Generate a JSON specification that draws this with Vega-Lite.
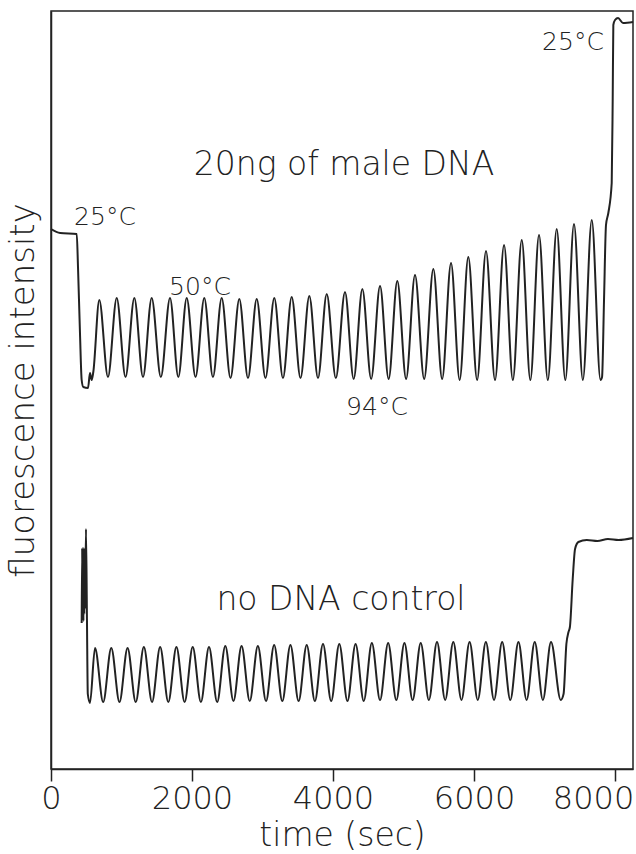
{
  "$schema": "https://vega.github.io/schema/vega-lite/v6.json",
  "width": 582,
  "height": 758,
  "autosize": {"type": "none"},
  "padding": {"left": 51, "top": 11, "right": 3, "bottom": 85},
  "background": "white",
  "config": {
    "font": "DejaVu Sans",
    "view": {"stroke": "#222", "strokeWidth": 1.5},
    "axis": {"grid": false, "domainColor": "#222", "domainWidth": 1.5, "tickColor": "#222", "labelColor": "#222", "titleColor": "#222", "titleFontWeight": 200, "labelFontWeight": 200}
  },
  "datasets": {
    "traces": [
      {"series": "male", "t": 0, "v": 540},
      {"series": "male", "t": 130, "v": 536},
      {"series": "male", "t": 365, "v": 535},
      {"series": "male", "t": 383, "v": 502},
      {"series": "male", "t": 411, "v": 436},
      {"series": "male", "t": 435, "v": 389},
      {"series": "male", "t": 458, "v": 382},
      {"series": "male", "t": 525, "v": 381},
      {"series": "male", "t": 553, "v": 396},
      {"series": "male", "t": 577, "v": 389},
      {"series": "male", "t": 600, "v": 397},
      {"series": "male", "t": 685, "v": 469},
      {"series": "male", "t": 808, "v": 392},
      {"series": "male", "t": 932, "v": 471},
      {"series": "male", "t": 1057, "v": 392},
      {"series": "male", "t": 1182, "v": 471},
      {"series": "male", "t": 1305, "v": 392},
      {"series": "male", "t": 1428, "v": 471},
      {"series": "male", "t": 1558, "v": 392},
      {"series": "male", "t": 1688, "v": 471},
      {"series": "male", "t": 1806, "v": 392},
      {"series": "male", "t": 1925, "v": 471},
      {"series": "male", "t": 2050, "v": 392},
      {"series": "male", "t": 2174, "v": 471},
      {"series": "male", "t": 2297, "v": 392},
      {"series": "male", "t": 2421, "v": 471},
      {"series": "male", "t": 2546, "v": 391},
      {"series": "male", "t": 2671, "v": 470},
      {"series": "male", "t": 2794, "v": 391},
      {"series": "male", "t": 2918, "v": 470},
      {"series": "male", "t": 3042, "v": 391},
      {"series": "male", "t": 3167, "v": 471},
      {"series": "male", "t": 3290, "v": 391},
      {"series": "male", "t": 3414, "v": 472},
      {"series": "male", "t": 3539, "v": 391},
      {"series": "male", "t": 3664, "v": 473},
      {"series": "male", "t": 3787, "v": 391},
      {"series": "male", "t": 3911, "v": 475},
      {"series": "male", "t": 4040, "v": 391},
      {"series": "male", "t": 4170, "v": 477},
      {"series": "male", "t": 4293, "v": 390},
      {"series": "male", "t": 4416, "v": 480},
      {"series": "male", "t": 4541, "v": 390},
      {"series": "male", "t": 4667, "v": 483},
      {"series": "male", "t": 4789, "v": 390},
      {"series": "male", "t": 4912, "v": 488},
      {"series": "male", "t": 5037, "v": 390},
      {"series": "male", "t": 5163, "v": 494},
      {"series": "male", "t": 5293, "v": 390},
      {"series": "male", "t": 5423, "v": 500},
      {"series": "male", "t": 5548, "v": 390},
      {"series": "male", "t": 5674, "v": 506},
      {"series": "male", "t": 5796, "v": 389},
      {"series": "male", "t": 5919, "v": 512},
      {"series": "male", "t": 6044, "v": 389},
      {"series": "male", "t": 6170, "v": 518},
      {"series": "male", "t": 6298, "v": 389},
      {"series": "male", "t": 6426, "v": 524},
      {"series": "male", "t": 6551, "v": 389},
      {"series": "male", "t": 6677, "v": 529},
      {"series": "male", "t": 6799, "v": 389},
      {"series": "male", "t": 6922, "v": 534},
      {"series": "male", "t": 7047, "v": 389},
      {"series": "male", "t": 7173, "v": 540},
      {"series": "male", "t": 7295, "v": 389},
      {"series": "male", "t": 7418, "v": 545},
      {"series": "male", "t": 7544, "v": 389},
      {"series": "male", "t": 7670, "v": 549},
      {"series": "male", "t": 7794, "v": 389},
      {"series": "male", "t": 7816, "v": 392},
      {"series": "male", "t": 7844, "v": 469},
      {"series": "male", "t": 7872, "v": 544},
      {"series": "male", "t": 7905, "v": 556},
      {"series": "male", "t": 7953, "v": 586},
      {"series": "male", "t": 7967, "v": 669},
      {"series": "male", "t": 7976, "v": 744},
      {"series": "male", "t": 8000, "v": 749},
      {"series": "male", "t": 8043, "v": 751},
      {"series": "male", "t": 8113, "v": 746},
      {"series": "male", "t": 8255, "v": 747},

      {"series": "control", "t": 435, "v": 146},
      {"series": "control", "t": 442, "v": 221},
      {"series": "control", "t": 448, "v": 150},
      {"series": "control", "t": 454, "v": 220},
      {"series": "control", "t": 460, "v": 148},
      {"series": "control", "t": 466, "v": 221},
      {"series": "control", "t": 472, "v": 155},
      {"series": "control", "t": 478, "v": 219},
      {"series": "control", "t": 484, "v": 160},
      {"series": "control", "t": 496, "v": 240},
      {"series": "control", "t": 510, "v": 150},
      {"series": "control", "t": 522, "v": 75},
      {"series": "control", "t": 553, "v": 66},
      {"series": "control", "t": 624, "v": 121},
      {"series": "control", "t": 740, "v": 67},
      {"series": "control", "t": 855, "v": 121},
      {"series": "control", "t": 971, "v": 67},
      {"series": "control", "t": 1086, "v": 121},
      {"series": "control", "t": 1202, "v": 67},
      {"series": "control", "t": 1317, "v": 122},
      {"series": "control", "t": 1433, "v": 67},
      {"series": "control", "t": 1548, "v": 122},
      {"series": "control", "t": 1664, "v": 67},
      {"series": "control", "t": 1779, "v": 122},
      {"series": "control", "t": 1895, "v": 67},
      {"series": "control", "t": 2010, "v": 122},
      {"series": "control", "t": 2126, "v": 67},
      {"series": "control", "t": 2241, "v": 122},
      {"series": "control", "t": 2357, "v": 67},
      {"series": "control", "t": 2472, "v": 123},
      {"series": "control", "t": 2588, "v": 68},
      {"series": "control", "t": 2703, "v": 123},
      {"series": "control", "t": 2819, "v": 68},
      {"series": "control", "t": 2934, "v": 123},
      {"series": "control", "t": 3050, "v": 68},
      {"series": "control", "t": 3165, "v": 124},
      {"series": "control", "t": 3281, "v": 68},
      {"series": "control", "t": 3396, "v": 124},
      {"series": "control", "t": 3512, "v": 68},
      {"series": "control", "t": 3627, "v": 124},
      {"series": "control", "t": 3743, "v": 68},
      {"series": "control", "t": 3858, "v": 125},
      {"series": "control", "t": 3974, "v": 68},
      {"series": "control", "t": 4089, "v": 125},
      {"series": "control", "t": 4205, "v": 68},
      {"series": "control", "t": 4320, "v": 125},
      {"series": "control", "t": 4436, "v": 68},
      {"series": "control", "t": 4551, "v": 126},
      {"series": "control", "t": 4667, "v": 69},
      {"series": "control", "t": 4782, "v": 126},
      {"series": "control", "t": 4898, "v": 69},
      {"series": "control", "t": 5013, "v": 126},
      {"series": "control", "t": 5129, "v": 69},
      {"series": "control", "t": 5244, "v": 126},
      {"series": "control", "t": 5360, "v": 69},
      {"series": "control", "t": 5475, "v": 127},
      {"series": "control", "t": 5591, "v": 69},
      {"series": "control", "t": 5706, "v": 127},
      {"series": "control", "t": 5822, "v": 69},
      {"series": "control", "t": 5937, "v": 127},
      {"series": "control", "t": 6053, "v": 69},
      {"series": "control", "t": 6168, "v": 127},
      {"series": "control", "t": 6284, "v": 69},
      {"series": "control", "t": 6399, "v": 127},
      {"series": "control", "t": 6515, "v": 69},
      {"series": "control", "t": 6630, "v": 127},
      {"series": "control", "t": 6746, "v": 69},
      {"series": "control", "t": 6861, "v": 127},
      {"series": "control", "t": 6977, "v": 69},
      {"series": "control", "t": 7092, "v": 127},
      {"series": "control", "t": 7230, "v": 69},
      {"series": "control", "t": 7270, "v": 75},
      {"series": "control", "t": 7310, "v": 125},
      {"series": "control", "t": 7340, "v": 137},
      {"series": "control", "t": 7360, "v": 142},
      {"series": "control", "t": 7400, "v": 190},
      {"series": "control", "t": 7433, "v": 220},
      {"series": "control", "t": 7480, "v": 227},
      {"series": "control", "t": 7600, "v": 229},
      {"series": "control", "t": 7750, "v": 228},
      {"series": "control", "t": 7900, "v": 230},
      {"series": "control", "t": 8050, "v": 229},
      {"series": "control", "t": 8255, "v": 231}
    ],
    "labels": [
      {"label": "25°C", "t": 766, "v": 544, "size": "small"},
      {"label": "50°C", "t": 2113, "v": 474, "size": "small"},
      {"label": "94°C", "t": 4624, "v": 354, "size": "small"},
      {"label": "25°C", "t": 7404, "v": 719, "size": "small"},
      {"label": "20ng of male DNA", "t": 4156, "v": 594, "size": "large"},
      {"label": "no DNA control", "t": 4113, "v": 159, "size": "large"}
    ]
  },
  "layer": [
    {
      "data": {"name": "traces"},
      "mark": {"type": "line", "interpolate": "monotone", "color": "#222", "strokeWidth": 2},
      "encoding": {
        "x": {
          "field": "t", "type": "quantitative",
          "scale": {"domain": [0, 8255], "nice": false, "zero": false},
          "axis": {"values": [0, 2000, 4000, 6000, 8000], "format": "d", "tickSize": 12, "tickWidth": 1.5, "labelFontSize": 32, "labelPadding": 2, "labelFlush": false, "labelOffset": {"condition": {"test": "datum.value === 8000", "value": -22}, "value": 0}, "title": "time (sec)", "titleFontSize": 33, "titlePadding": 5}
        },
        "y": {
          "field": "v", "type": "quantitative",
          "scale": {"domain": [0, 758], "nice": false, "zero": false},
          "axis": {"ticks": false, "labels": false, "title": "fluorescence intensity", "titleFontSize": 34, "titlePadding": 11}
        },
        "detail": {"field": "series", "type": "nominal"}
      }
    },
    {
      "data": {"name": "labels"},
      "mark": {"type": "text", "align": "center", "baseline": "alphabetic", "color": "#222", "fontWeight": 200},
      "encoding": {
        "x": {"field": "t", "type": "quantitative"},
        "y": {"field": "v", "type": "quantitative"},
        "text": {"field": "label", "type": "nominal"},
        "size": {"field": "size", "type": "nominal", "scale": {"domain": ["small", "large"], "range": [25, 33]}, "legend": null}
      }
    }
  ]
}
